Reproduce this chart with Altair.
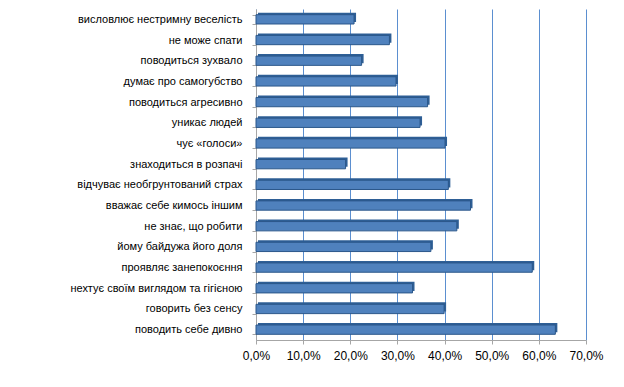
import altair as alt
import pandas as pd

categories = [
    "висловлює нестримну веселість",
    "не може спати",
    "поводиться зухвало",
    "думає про самогубство",
    "поводиться агресивно",
    "уникає людей",
    "чує «голоси»",
    "знаходиться в розпачі",
    "відчуває необгрунтований страх",
    "вважає себе кимось іншим",
    "не знає, що робити",
    "йому байдужа його доля",
    "проявляє занепокоєння",
    "нехтує своїм виглядом та гігієною",
    "говорить без сенсу",
    "поводить себе дивно",
]
values = [0.208, 0.283, 0.224, 0.297, 0.364, 0.348, 0.401, 0.190,
          0.408, 0.455, 0.426, 0.371, 0.586, 0.332, 0.399, 0.635]
tick_values = [0.0, 0.1, 0.2, 0.3, 0.4, 0.5, 0.6, 0.7]

df = pd.DataFrame({"cat": categories, "val": values})

FONT = "Liberation Sans"

x_enc = alt.X(
    "val:Q",
    scale=alt.Scale(domain=[0, 0.7], nice=False),
    axis=alt.Axis(
        values=tick_values,
        labelExpr="replace(format(datum.value, '.1%'), '.', ',')",
        labelFlush=False,
        labelOverlap=False,
        grid=True,
        gridColor="#5B8FD0",
        gridWidth=1,
        domainColor="#A6A6A6",
        tickColor="#A6A6A6",
        tickSize=4,
        labelPadding=6,
        labelFont=FONT,
        labelFontSize=12,
        labelColor="#000000",
        title=None,
    ),
)
y_enc = alt.Y(
    "cat:N",
    sort=None,
    scale=alt.Scale(paddingInner=0.55, paddingOuter=0.275),
    axis=alt.Axis(
        domainColor="#A6A6A6",
        tickColor="#A6A6A6",
        tickSize=4,
        tickBand="extent",
        labelPadding=10,
        labelFont=FONT,
        labelFontSize=11,
        labelColor="#000000",
        labelLimit=300,
        title=None,
    ),
)

depth = alt.Chart(df).mark_bar(
    color="#2E5F96", xOffset=2, yOffset=-2
).encode(x=x_enc, y=y_enc)

front = alt.Chart(df).mark_bar(
    color="#4F81BD", stroke="#2B578A", strokeWidth=1
).encode(x=x_enc, y=y_enc)

chart = (
    alt.layer(depth, front)
    .properties(
        width=330,
        height=331,
        autosize=alt.AutoSizeParams(type="none"),
        padding={"left": 248, "top": 1, "right": 30, "bottom": 39},
        background="#FFFFFF",
    )
    .configure_view(stroke=None)
)

chart.save("out.html", embed_options={"renderer": "svg", "actions": False})
